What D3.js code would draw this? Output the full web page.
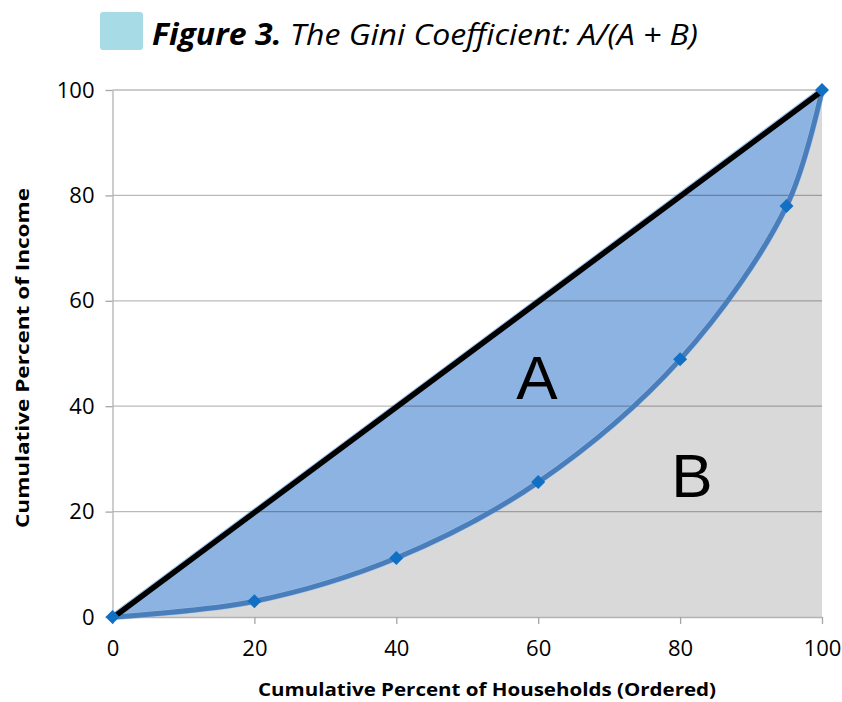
<!DOCTYPE html>
<html lang="en">
<head>
<meta charset="UTF-8">
<title>Figure 3. The Gini Coefficient</title>
<script src="https://d3js.org/d3.v7.min.js"></script>
<style>
  body { margin: 0; background: #fff; }
  svg text { font-family: "Open Sans", "Liberation Sans", sans-serif; fill: #000; }
  .tick-label { font-size: 22px; }
  .axis-title { font-size: 18px; font-weight: bold; }
  .big-label { font-size: 62px; font-family: "Liberation Sans", sans-serif; }
</style>
</head>
<body>
<svg width="842" height="702"></svg>
<script>
// Lorenz curve points (cumulative % of households vs cumulative % of income)
const households = [0, 20, 40, 60, 80, 95, 100];
const income = [0, 3, 11.2, 25.6, 48.9, 78, 100];
// line of perfect equality
const equalityX = [0, 100];
const equalityY = [0, 100];
const xTicks = [0, 20, 40, 60, 80, 100];
const yTicks = [0, 20, 40, 60, 80, 100];

const svg = d3.select("svg");
const plotLeft = 112.5, plotRight = 822, plotTop = 90, plotBottom = 617;

const x = d3.scaleLinear().domain([0, 100]).range([plotLeft, plotRight]);
const y = d3.scaleLinear().domain([0, 100]).range([plotBottom, plotTop]);

const lorenz = households.map((h, i) => [h, income[i]]);
const equality = equalityX.map((v, i) => [v, equalityY[i]]);
const smooth = d3.curveCatmullRom.alpha(0.5);

// title with little legend box
svg.append("rect")
  .attr("x", 100).attr("y", 12).attr("width", 43).attr("height", 38)
  .attr("rx", 3).attr("fill", "#a7dce6");
const title = svg.append("text")
  .attr("x", 152).attr("y", 45)
  .attr("font-size", 30).attr("font-style", "italic")
  .attr("textLength", 546).attr("lengthAdjust", "spacingAndGlyphs");
title.append("tspan").attr("font-weight", "bold").text("Figure 3.");
title.append("tspan").text(" The Gini Coefficient: A/(A + B)");

// area B: under the Lorenz curve
svg.append("path")
  .datum(lorenz)
  .attr("fill", "#d9d9d9")
  .attr("d", d3.area().curve(smooth)
    .x(d => x(d[0])).y0(y(0)).y1(d => y(d[1])));

// area A: between the curve and the diagonal (closing the path follows the diagonal)
svg.append("path")
  .attr("fill", "#8db3e2")
  .attr("stroke", "#9fc1ea")
  .attr("stroke-width", 6)
  .attr("stroke-linejoin", "round")
  .attr("d", d3.line().curve(smooth).x(d => x(d[0])).y(d => y(d[1]))(lorenz) + "Z");

// gridlines
svg.append("g")
  .selectAll("line")
  .data(yTicks.filter(t => t > 0))
  .join("line")
  .attr("x1", plotLeft).attr("x2", plotRight)
  .attr("y1", d => y(d)).attr("y2", d => y(d))
  .attr("stroke", "rgba(0,0,0,0.27)")
  .attr("stroke-width", 1.3);

// axes
const yAxis = svg.append("g")
  .attr("transform", `translate(${plotLeft},0)`)
  .call(d3.axisLeft(y).tickValues(yTicks).tickSize(7).tickPadding(11).tickSizeOuter(0));
const xAxis = svg.append("g")
  .attr("transform", `translate(0,${plotBottom})`)
  .call(d3.axisBottom(x).tickValues(xTicks).tickSize(7).tickPadding(11).tickSizeOuter(0));
[xAxis, yAxis].forEach(a => {
  a.attr("font-size", null).attr("font-family", null);
  a.select(".domain").attr("stroke", "#b3b3b3").attr("stroke-width", 1.3);
  a.selectAll(".tick line").attr("stroke", "#a6a6a6").attr("stroke-width", 1.3);
  a.selectAll(".tick text").attr("class", "tick-label");
});
xAxis.selectAll(".tick text").attr("dy", "0.95em");

// Lorenz curve
svg.append("path")
  .datum(lorenz)
  .attr("fill", "none")
  .attr("stroke", "#4a7ebb")
  .attr("stroke-width", 5)
  .attr("d", d3.line().curve(smooth).x(d => x(d[0])).y(d => y(d[1])));

// line of equality
svg.append("path")
  .datum(equality)
  .attr("fill", "none")
  .attr("stroke", "#000")
  .attr("stroke-width", 5.5)
  .attr("transform", "translate(0,1)")
  .attr("d", d3.line().x(d => x(d[0])).y(d => y(d[1])));

// diamond markers
svg.append("g")
  .selectAll("path")
  .data(lorenz)
  .join("path")
  .attr("transform", d => `translate(${x(d[0])},${y(d[1])})`)
  .attr("d", d3.symbol(d3.symbolDiamond2, 125))
  .attr("fill", "#1170c4");

// area labels
svg.append("text").attr("class", "big-label")
  .attr("x", 537).attr("y", 399).attr("text-anchor", "middle").text("A");
svg.append("text").attr("class", "big-label")
  .attr("x", 692).attr("y", 497).attr("text-anchor", "middle").text("B");

// axis titles
svg.append("text").attr("class", "axis-title")
  .attr("x", 487).attr("y", 696).attr("text-anchor", "middle")
  .attr("textLength", 458).attr("lengthAdjust", "spacingAndGlyphs")
  .text("Cumulative Percent of Households (Ordered)");
svg.append("text").attr("class", "axis-title")
  .attr("transform", "translate(29,358) rotate(-90)")
  .attr("text-anchor", "middle")
  .attr("textLength", 340).attr("lengthAdjust", "spacingAndGlyphs")
  .text("Cumulative Percent of Income");
</script>
</body>
</html>
